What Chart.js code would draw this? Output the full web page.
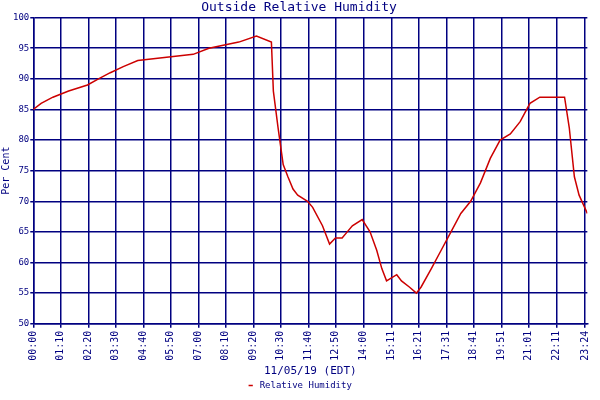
<!DOCTYPE html>
<html>
<head>
<script src="https://cdn.jsdelivr.net/npm/chart.js@4"></script>
<style>body{margin:0;background:#fff}#wrap{width:600px;height:400px}</style>
</head>
<body>
<div id="wrap"><canvas id="rh"></canvas></div>
<script>
// Minuten seit Mitternacht und Messwerte
const minutes = [0, 20, 50, 90, 138, 166, 196, 229, 266, 407, 447, 523, 568, 606, 611, 623, 636, 648, 661, 673, 698, 711, 736, 754, 769, 786, 799, 812, 837, 857, 874, 887, 899, 925, 937, 957, 975, 987, 1013, 1038, 1063, 1088, 1113, 1138, 1163, 1188, 1214, 1239, 1264, 1289, 1352, 1364, 1377, 1389, 1410];
const humidity = [85, 86, 87, 88, 89, 90, 91, 92, 93, 94, 95, 96, 97, 96, 88, 82, 76, 74, 72, 71, 70, 69, 66, 63, 64, 64, 65, 66, 67, 65, 62, 59, 57, 58, 57, 56, 55, 56, 59, 62, 65, 68, 70, 73, 77, 80, 81, 83, 86, 87, 87, 82, 74, 71, 68];
const tickMinutes = [0, 70, 140, 210, 280, 350, 420, 490, 560, 630, 700, 770, 840, 911, 981, 1051, 1121, 1191, 1261, 1331, 1404];
const tickLabels = ['00:00', '01:10', '02:20', '03:30', '04:40', '05:50', '07:00', '08:10', '09:20', '10:30', '11:40', '12:50', '14:00', '15:11', '16:21', '17:31', '18:41', '19:51', '21:01', '22:11', '23:24'];

const navy = '#000080';
const font = { family: 'DejaVu Sans Mono', size: 9 };

new Chart(document.getElementById('rh'), {
    type: 'line',
    data: {
        datasets: [{
            label: 'Relative Humidity',
            data: minutes.map((m, i) => ({ x: m, y: humidity[i] })),
            borderColor: '#cc0000',
            backgroundColor: '#cc0000',
            borderWidth: 1.5,
            stepped: false,
            pointRadius: 0
        }]
    },
    options: {
        animation: false,
        responsive: true,
        maintainAspectRatio: false,
        layout: { padding: { right: 2, bottom: 0 } },
        plugins: {
            title: { display: true, text: 'Outside Relative Humidity', color: navy, font: { family: 'DejaVu Sans Mono', size: 13, weight: 'normal' }, padding: { top: 0, bottom: 2 } },
            legend: { position: 'bottom', labels: { color: navy, font: font, usePointStyle: true, pointStyle: 'line', boxHeight: 3, padding: 2 } }
        },
        scales: {
            x: {
                type: 'linear', min: 0, max: 1410,
                afterBuildTicks: axis => { axis.ticks = tickMinutes.map(v => ({ value: v })); },
                ticks: {
                    color: navy, font: { family: 'DejaVu Sans Mono', size: 10 }, maxRotation: 90, minRotation: 90, autoSkip: false,
                    callback: v => tickLabels[tickMinutes.indexOf(v)]
                },
                grid: { color: navy, lineWidth: 1.5, tickLength: 4 },
                border: { color: navy, width: 1.5 },
                title: { display: true, text: '11/05/19 (EDT)', color: navy, font: { family: 'DejaVu Sans Mono', size: 11 }, padding: 1 }
            },
            y: {
                min: 50, max: 100,
                ticks: { stepSize: 5, color: navy, font: font, padding: 1 },
                grid: { color: navy, lineWidth: 1.5, tickLength: 3 },
                border: { color: navy, width: 1.5 },
                title: { display: true, text: 'Per Cent', color: navy, font: { family: 'DejaVu Sans Mono', size: 10 }, padding: 0 }
            }
        }
    }
});
</script>
</body>
</html>
